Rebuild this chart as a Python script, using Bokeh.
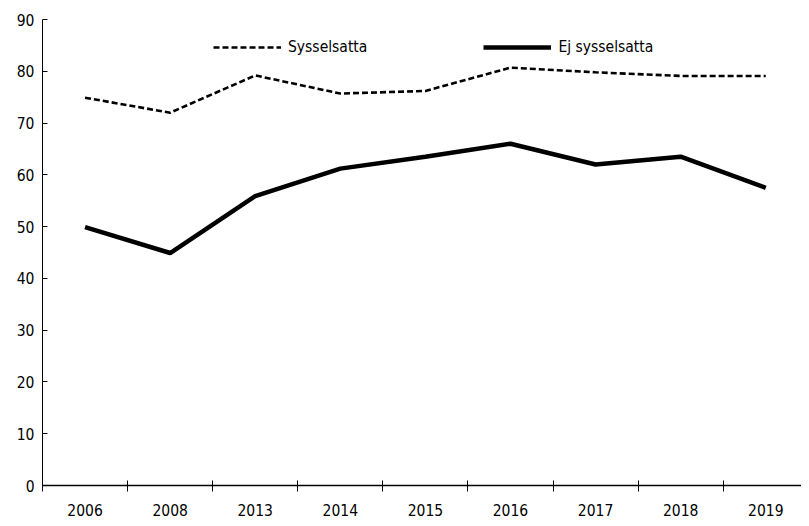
from bokeh.plotting import figure
from bokeh.models import Range1d, FixedTicker, Legend, LegendItem, ColumnDataSource
from bokeh.embed import file_html
from bokeh.resources import INLINE

years = ["2006", "2008", "2013", "2014", "2015", "2016", "2017", "2018", "2019"]
sysselsatta = [74.9, 72.0, 79.2, 75.7, 76.2, 80.7, 79.8, 79.1, 79.1]
ej_sysselsatta = [49.9, 44.9, 55.9, 61.2, 63.5, 66.0, 62.0, 63.5, 57.5]
y_ticks = [0, 10, 20, 30, 40, 50, 60, 70, 80, 90]

FONT = "DejaVu Sans Condensed"
FS = "15.5px"

xs = [i + 0.5 for i in range(len(years))]
src = ColumnDataSource(dict(x=xs, s=sysselsatta, e=ej_sysselsatta))

p = figure(width=801, height=518, output_backend="svg", toolbar_location=None,
           x_range=Range1d(0, 8.92), y_range=Range1d(0, 90),
           min_border_left=42, min_border_top=19, min_border_bottom=31, min_border_right=0)
p.outline_line_color = None
p.xgrid.visible = False
p.ygrid.visible = False

r1 = p.line("x", "s", source=src, line_color="black", line_width=2.6, line_dash="6 3")
r2 = p.line("x", "e", source=src, line_color="black", line_width=4.5)

# x axis: labels at category centres, ticks at category boundaries
p.xaxis.ticker = FixedTicker(ticks=xs, minor_ticks=list(range(0, 10)))
p.xaxis.major_label_overrides = {x: y for x, y in zip(xs, years)}
p.xaxis.major_tick_line_color = None
p.xaxis.major_tick_in = 0
p.xaxis.major_tick_out = 0
p.xaxis.minor_tick_in = 5
p.xaxis.minor_tick_out = 6
p.xaxis.minor_tick_line_color = "black"
p.xaxis.minor_tick_line_width = 1
p.xaxis.axis_line_width = 1.5
p.xaxis.axis_line_color = "black"
p.xaxis.major_label_standoff = 12
p.xaxis.major_label_text_font = FONT
p.xaxis.major_label_text_font_size = FS
p.xaxis.major_label_text_color = "black"

p.yaxis.ticker = FixedTicker(ticks=y_ticks)
p.yaxis.major_tick_in = 5
p.yaxis.major_tick_out = 0
p.yaxis.minor_tick_line_color = None
p.yaxis.axis_line_color = "black"
p.yaxis.major_tick_line_color = "black"
p.yaxis.major_label_standoff = 8
p.yaxis.major_label_text_font = FONT
p.yaxis.major_label_text_font_size = FS
p.yaxis.major_label_text_color = "black"

legend = Legend(items=[LegendItem(label="Sysselsatta", renderers=[r1]),
                       LegendItem(label="Ej sysselsatta", renderers=[r2])],
                orientation="horizontal", location=(171, 428),
                padding=0, margin=0, spacing=116, glyph_width=68, glyph_height=20,
                label_standoff=7, label_text_font=FONT, label_text_font_size=FS,
                label_text_color="black", border_line_color=None, background_fill_alpha=0)
p.add_layout(legend, "center")

open("out.html", "w").write(file_html(p, INLINE))
